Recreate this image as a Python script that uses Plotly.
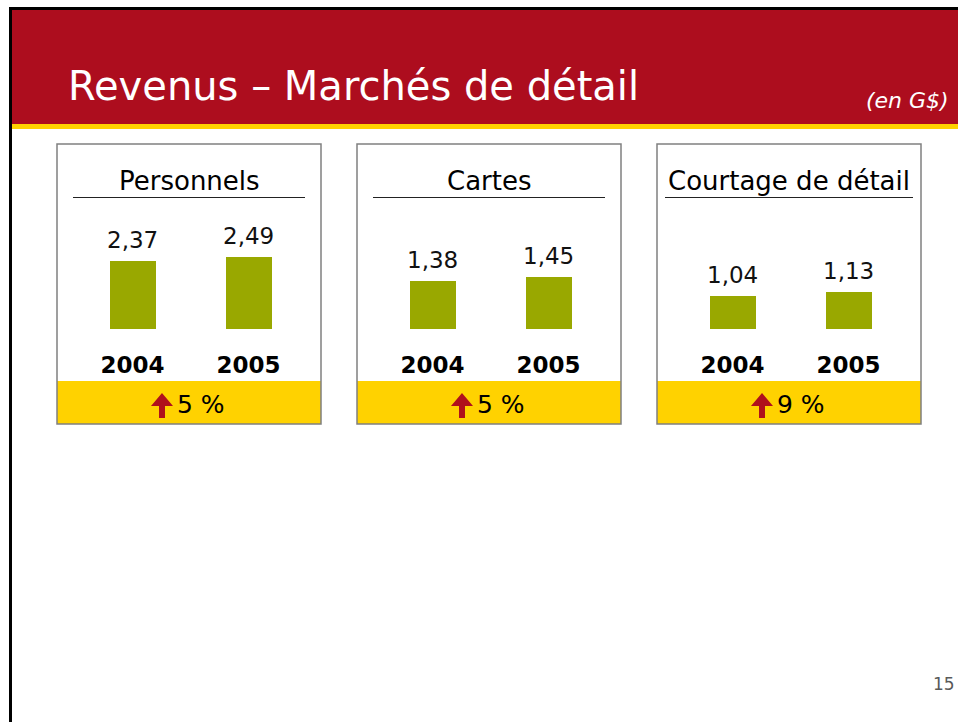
import plotly.graph_objects as go

W, H = 958, 722

# ---------------- data ----------------
categories = ["2004", "2005"]
panel_titles = ["Personnels", "Cartes", "Courtage de détail"]
values_personnels = [2.37, 2.49]
values_cartes = [1.38, 1.45]
values_courtage = [1.04, 1.13]
growth_labels = ["5 %", "5 %", "9 %"]
chart_title = "Revenus – Marchés de détail"
unit_label = "(en G$)"
page_number = "15"

series = [values_personnels, values_cartes, values_courtage]

# ---------------- style ----------------
RED = "#AD0D1E"
YELLOW = "#FFD200"
GREEN = "#99A800"
ARROW = "#B0101C"
GREY = "#808080"
FONT = "DejaVu Sans"

panel_left = [57, 357, 657]
panel_w = 264
panel_top, panel_bot = 144, 424
band_top = 381
# per-panel vertical axis ranges (the original charts do not start at zero)
y_ranges = [[0.33, 3.30], [0.54, 2.2725], [0.2975, 2.525]]
underline_span = [(73, 305), (373, 605), (665, 913)]


def px(x):
    return x / W


def py(y):
    return 1 - y / H


fig = go.Figure()
shapes = []
annotations = []

# frame & header
shapes.append(dict(type="rect", xref="paper", yref="paper", x0=px(9), x1=px(958), y0=py(7), y1=py(10),
                   fillcolor="black", line_width=0, layer="below"))
shapes.append(dict(type="rect", xref="paper", yref="paper", x0=px(9), x1=px(12), y0=py(7), y1=py(722),
                   fillcolor="black", line_width=0, layer="below"))
shapes.append(dict(type="rect", xref="paper", yref="paper", x0=px(12), x1=px(958), y0=py(10), y1=py(124),
                   fillcolor=RED, line_width=0, layer="below"))
shapes.append(dict(type="rect", xref="paper", yref="paper", x0=px(12), x1=px(958), y0=py(124), y1=py(129),
                   fillcolor=YELLOW, line_width=0, layer="below"))

annotations.append(dict(text=chart_title, xref="paper", yref="paper", x=px(66), y=py(86),
                        xanchor="left", yanchor="middle", showarrow=False,
                        font=dict(family=FONT, size=40, color="white")))
annotations.append(dict(text="<i>" + unit_label + "</i>", xref="paper", yref="paper", x=px(951), y=py(100),
                        xanchor="right", yanchor="middle", showarrow=False,
                        font=dict(family=FONT, size=22, color="white")))
annotations.append(dict(text=page_number, xref="paper", yref="paper", x=px(957), y=py(684),
                        xanchor="right", yanchor="middle", showarrow=False,
                        font=dict(family=FONT, size=17, color="#595959")))

for i, (vals, title, growth) in enumerate(zip(series, panel_titles, growth_labels)):
    L = panel_left[i]
    cx = L + panel_w / 2
    n = "" if i == 0 else str(i + 1)
    xa, ya = "x" + n, "y" + n

    # panel background parts
    shapes.append(dict(type="rect", xref="paper", yref="paper", x0=px(L), x1=px(L + panel_w),
                       y0=py(band_top), y1=py(panel_bot), fillcolor=YELLOW, line_width=0, layer="below"))
    shapes.append(dict(type="rect", xref="paper", yref="paper", x0=px(L), x1=px(L + panel_w),
                       y0=py(panel_top), y1=py(panel_bot), fillcolor="rgba(0,0,0,0)",
                       line=dict(color=GREY, width=1.5)))
    u0, u1 = underline_span[i]
    shapes.append(dict(type="line", xref="paper", yref="paper", x0=px(u0), x1=px(u1),
                       y0=py(197.5), y1=py(197.5), line=dict(color="#222222", width=1)))

    # arrow
    ax = cx - 38
    pts = [(ax + 11, 393), (ax + 22, 406), (ax + 14, 406), (ax + 14, 418), (ax + 8, 418), (ax + 8, 406), (ax, 406)]
    path = "M " + " L ".join(f"{px(a):.5f},{py(b):.5f}" for a, b in pts) + " Z"
    shapes.append(dict(type="path", xref="paper", yref="paper", path=path, fillcolor=ARROW, line_width=0))

    annotations.append(dict(text=growth, xref="paper", yref="paper", x=px(cx - 14), y=py(404),
                            xanchor="left", yanchor="middle", showarrow=False,
                            font=dict(family=FONT, size=25, color="black")))
    annotations.append(dict(text=title, xref="paper", yref="paper", x=px(cx), y=py(181),
                            xanchor="center", yanchor="middle", showarrow=False,
                            font=dict(family=FONT, size=26, color="black")))

    fig.add_trace(go.Bar(x=categories, y=vals, width=0.405, marker=dict(color=GREEN, line_width=0),
                         xaxis=xa, yaxis=ya, showlegend=False, hoverinfo="skip"))
    for k, v in enumerate(vals):
        annotations.append(dict(text=f"{v:.2f}".replace(".", ","), xref=xa, yref=ya, x=k, y=v,
                                xanchor="center", yanchor="bottom", yshift=6, showarrow=False,
                                font=dict(family=FONT, size=23, color="#111111")))

    xkey = "xaxis" + n
    ykey = "yaxis" + n
    fig.layout[xkey] = dict(domain=[px(L + 17.5), px(L + 249.5)], anchor=ya, type="category",
                            range=[-0.5, 1.5], showgrid=False, zeroline=False, showline=False,
                            ticks="", ticklabelstandoff=20,
                            tickfont=dict(family=FONT, size=23, color="black", weight="bold"),
                            fixedrange=True)
    fig.layout[ykey] = dict(domain=[py(329), py(230)], anchor=xa, range=y_ranges[i], visible=False,
                            fixedrange=True)

fig.update_layout(width=W, height=H, margin=dict(l=0, r=0, t=0, b=0),
                  paper_bgcolor="white", plot_bgcolor="rgba(0,0,0,0)",
                  shapes=shapes, annotations=annotations, bargap=0, showlegend=False)

fig.write_html("out.html", config={"displayModeBar": False},
               post_script="document.body.style.margin='0';document.body.style.overflow='hidden';")
